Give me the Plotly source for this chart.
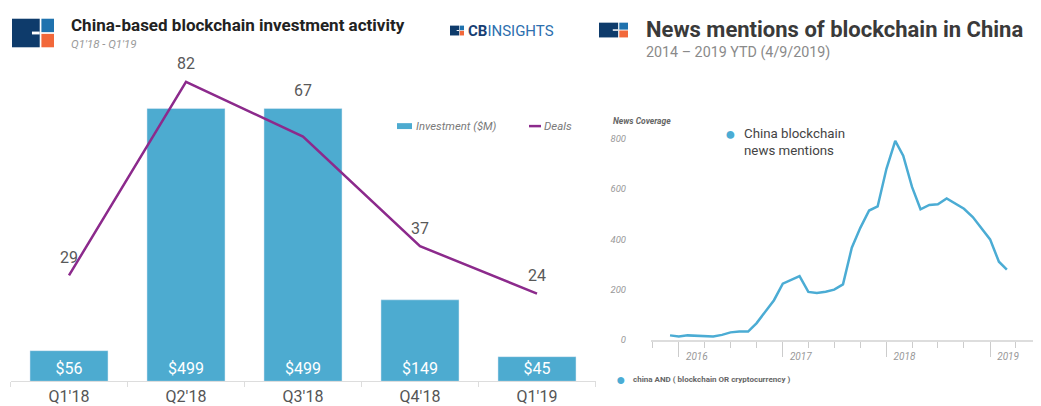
import plotly.graph_objects as go
import pandas as pd

# ---------------- data ----------------
quarters = ["Q1'18", "Q2'18", "Q3'18", "Q4'18", "Q1'19"]
investment = [56, 499, 499, 149, 45]          # $M
deals = [29, 82, 67, 37, 24]

news_months = pd.date_range("2015-12-01", periods=40, freq="MS")
news_mentions = [18, 14, 18, 17, 14, 14, 20, 30, 33, 33,
                 67, 115, 158, 224, 240, 254, 191, 187, 192, 200,
                 221, 367, 446, 515, 531, 681, 792, 733, 609, 520,
                 537, 540, 563, 541, 522, 489, 446, 400, 311, 280]
news_yticks = [0, 200, 400, 600, 800]
news_year_ticks = ["2016-01-01", "2017-01-01", "2018-01-01", "2019-01-01"]
news_year_labels = ["2016", "2017", "2018", "2019"]

# ---------------- style ----------------
W, H = 1041, 406
BAR_C = "#4DABD0"
DEAL_C = "#8C2A8C"
NEWS_C = "#4BACD4"
NAVY = "#0E3B6B"
MBLUE = "#1F72AE"
ORANGE = "#F2683A"
FONT = "Roboto"
DY = 3

def px(x):
    return x / W

def py(y):
    return 1 - (y + DY) / H

BAR_MAX = 583.7
DEAL_MAX = 87.4

fig = go.Figure()

fig.add_trace(go.Bar(
    x=quarters, y=investment, marker_color=BAR_C, width=0.667,
    text=[f"${v}" for v in investment], textposition="inside",
    insidetextanchor="start", textangle=0,
    textfont=dict(color="white", size=16, family=FONT),
    constraintext="none", xaxis="x", yaxis="y", showlegend=False,
    hoverinfo="skip"))

fig.add_trace(go.Scatter(
    x=quarters, y=deals, mode="lines", line=dict(color=DEAL_C, width=2.5),
    xaxis="x", yaxis="y2", showlegend=False, hoverinfo="skip"))

fig.add_trace(go.Scatter(
    x=news_months, y=news_mentions, mode="lines",
    line=dict(color=NEWS_C, width=2.5),
    xaxis="x3", yaxis="y3", showlegend=False, hoverinfo="skip"))

annotations = []
# deal labels (above point or above bar, whichever higher)
for q, d, inv in zip(quarters, deals, investment):
    yv = max(d, inv * DEAL_MAX / BAR_MAX)
    annotations.append(dict(x=q, y=yv, xref="x", yref="y2", text=str(d),
                            showarrow=False, yanchor="middle", yshift=18,
                            font=dict(size=16, color="#595959", family=FONT)))

def txt(x, y, text, size, color, xanchor="left", yanchor="middle", align="left"):
    annotations.append(dict(x=px(x), y=py(y), xref="paper", yref="paper",
                            text=text, showarrow=False, xanchor=xanchor,
                            yanchor=yanchor, align=align,
                            font=dict(size=size, color=color, family=FONT)))

# left headers
txt(69, 22, "<b>China-based blockchain investment activity</b>", 17, "#222222")
txt(69, 42, "<i>Q1'18 - Q1'19</i>", 11.5, "#9a9a9a")
txt(466, 28, "<b><span style='color:#173e73'>CB</span></b><span style='color:#2d6fae'>INSIGHTS</span>", 15, "#2d6fae")
# left legend
txt(414, 125, "<i>Investment ($M)</i>", 11.3, "#7a7a7a")
txt(542, 125, "<i>Deals</i>", 11.5, "#7a7a7a")

# right headers
txt(644, 27, "<b>News mentions of blockchain in China</b>", 22, "#3a3a3a")
txt(644, 50, "2014 – 2019 YTD (4/9/2019)", 14.3, "#8a8a8a")
txt(611, 120, "<b><i>News Coverage</i></b>", 8.5, "#666666")
txt(730, 132, "●", 18, NEWS_C, xanchor="center")
txt(742, 123, "China blockchain<br>news mentions", 13.3, "#444444", yanchor="top")
txt(621, 382, "●", 16, NEWS_C, xanchor="center")
txt(631, 382, "<b>china AND ( blockchain OR cryptocurrency )</b>", 8, "#666666")

shapes = []

def rect(x0, y0, x1, y1, color):
    shapes.append(dict(type="rect", xref="paper", yref="paper",
                       x0=px(x0), x1=px(x1), y0=py(y1), y1=py(y0),
                       fillcolor=color, line=dict(width=0), layer="above"))

def logo(x0, y0, w, h):
    lw = w * 0.66
    gap = w * 0.04
    rect(x0, y0, x0 + lw, y0 + h, NAVY)
    rect(x0 + lw * 0.72, y0 + h * 0.45, x0 + lw, y0 + h * 0.55, "white")
    rect(x0 + lw + gap, y0, x0 + w, y0 + h * 0.47, MBLUE)
    rect(x0 + lw + gap, y0 + h * 0.53, x0 + w, y0 + h, ORANGE)

logo(12, 16, 42, 29)
logo(599, 20, 29, 15)
logo(450, 23, 14, 10)

# left legend symbols
rect(397, 122, 412, 128, BAR_C)
shapes.append(dict(type="line", xref="paper", yref="paper",
                   x0=px(529), x1=px(541), y0=py(125), y1=py(125),
                   line=dict(color=DEAL_C, width=2.5)))

fig.update_layout(
    width=W, height=H, margin=dict(l=0, r=0, t=0, b=0),
    paper_bgcolor="white", plot_bgcolor="white",
    font=dict(family=FONT),
    bargap=0.333,
    xaxis=dict(domain=[px(10.5), px(595.5)], showgrid=False, zeroline=False,
               showline=True, linecolor="#dddddd", linewidth=1.2,
               ticks="outside", tickson="boundaries", ticklen=5,
               tickcolor="#dddddd",
               tickfont=dict(size=16, color="#555555", family=FONT),
               fixedrange=True),
    yaxis=dict(domain=[py(384), py(60)], range=[0, BAR_MAX], visible=False,
               fixedrange=True),
    yaxis2=dict(overlaying="y", range=[0, DEAL_MAX], visible=False,
                fixedrange=True),
    xaxis3=dict(domain=[px(651), px(1033)], anchor="y3",
                range=["2015-09-25", "2019-06-01"], showgrid=False,
                zeroline=False, showline=True, linecolor="#dddddd",
                linewidth=1.5, tickmode="array", tickvals=news_year_ticks,
                ticktext=news_year_labels, ticks="outside", ticklen=15,
                tickcolor="#cccccc", ticklabelshift=18,
                ticklabelstandoff=-9,
                tickfont=dict(size=10, color="#999999", family=FONT, style="italic"),
                minor=dict(ticks="outside", ticklen=6, tickcolor="#cccccc",
                           dtick="M3", tick0="2016-01-01", showgrid=False),
                fixedrange=True),
    yaxis3=dict(domain=[py(342), py(127.8)], anchor="x3", range=[0, 840],
                showgrid=False, zeroline=False, showline=False,
                tickmode="array", tickvals=news_yticks, ticks="",
                ticklabelstandoff=24,
                tickfont=dict(size=9.5, color="#999999", family=FONT, style="italic"),
                fixedrange=True),
    annotations=annotations,
    shapes=shapes,
)

fig.write_html(
    "out.html",
    config={"displayModeBar": False},
    post_script="document.body.style.margin='0';document.body.style.overflow='hidden';",
)
